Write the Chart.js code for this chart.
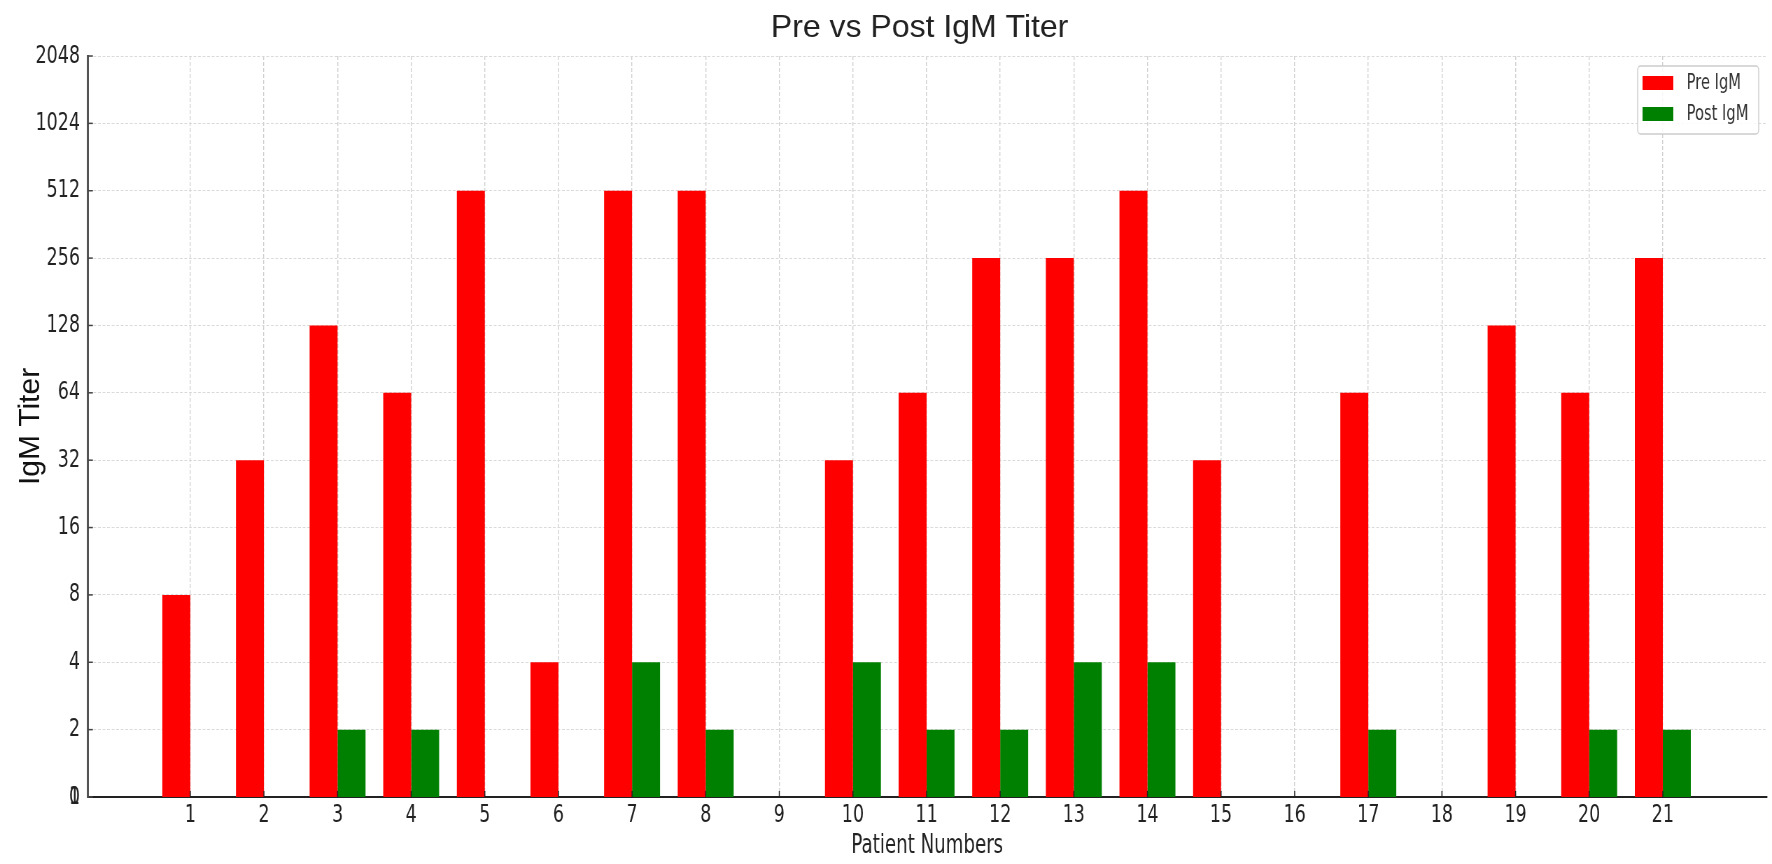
<!DOCTYPE html>
<html>
<head>
<meta charset="utf-8">
<script src="https://cdn.jsdelivr.net/npm/chart.js@4/dist/chart.umd.min.js"></script>
<style>
  html, body { margin: 0; padding: 0; background: #fff; overflow: hidden; }
  #wrap { width: 2532px; height: 864px; transform: scaleX(0.69984); transform-origin: 0 0; }
</style>
</head>
<body>
<div id="wrap"><canvas id="c" width="2532" height="864"></canvas></div>
<script>
const patients = [1,2,3,4,5,6,7,8,9,10,11,12,13,14,15,16,17,18,19,20,21];
const preIgM  = [8,32,128,64,512,4,512,512,0,32,64,256,256,512,32,0,64,0,128,64,256];
const postIgM = [0,0,2,2,0,0,4,2,0,4,2,2,4,4,0,0,2,0,0,2,2];
const yTicks  = [1,2,4,8,16,32,64,128,256,512,1024,2048];
const seriesLabels = ['Pre IgM', 'Post IgM'];
const seriesColors = ['#ff0000', '#008000'];
const chartTitle = 'Pre vs Post IgM Titer';
const yTitle = 'IgM Titer';
const xTitle = 'Patient Numbers';

const SQ = 0.69984; // horizontal squeeze applied by CSS to the whole canvas

const toPoints = arr => patients.map((p, i) => ({ x: p, y: arr[i] > 0 ? arr[i] : null }));

const overlayPlugin = {
  id: 'overlay',
  afterDatasetsDraw(chart) {
    const ctx = chart.ctx, ca = chart.chartArea;
    const xs = chart.scales.x, ys = chart.scales.y;
    ctx.save();
    ctx.strokeStyle = '#222';
    ctx.lineWidth = 1.5;
    xs.ticks.forEach((t, i) => {
      const px = xs.getPixelForTick(i);
      ctx.beginPath(); ctx.moveTo(px, ca.bottom); ctx.lineTo(px, ca.bottom - 6); ctx.stroke();
    });
    ctx.strokeStyle = '#444';
    ys.ticks.forEach((t, i) => {
      const py = ys.getPixelForTick(i);
      ctx.beginPath(); ctx.moveTo(ca.left, py); ctx.lineTo(ca.left + 7, py); ctx.stroke();
    });
    ctx.restore();
  },
  afterDraw(chart) {
    const ctx = chart.ctx, ca = chart.chartArea;
    ctx.save();
    // chart title (un-squeezed text)
    ctx.save();
    ctx.translate((ca.left + ca.right) / 2 - 11, 37);
    ctx.scale(1 / SQ, 1);
    ctx.font = '32px "Liberation Sans", Arial, sans-serif';
    ctx.fillStyle = '#222';
    ctx.textAlign = 'center';
    ctx.textBaseline = 'alphabetic';
    ctx.fillText(chartTitle, 0, 0);
    ctx.restore();
    // y axis title (un-squeezed, rotated)
    ctx.save();
    ctx.translate(39 / SQ, (ca.top + ca.bottom) / 2);
    ctx.scale(1 / SQ, 1);
    ctx.rotate(-Math.PI / 2);
    ctx.font = '30px "Liberation Sans", Arial, sans-serif';
    ctx.fillStyle = '#111';
    ctx.textAlign = 'center';
    ctx.textBaseline = 'alphabetic';
    ctx.fillText(yTitle, 0, 0);
    ctx.restore();
    // overlapping "0" at the bottom of the y axis
    ctx.font = '25px "DejaVu Sans"';
    ctx.fillStyle = '#222';
    ctx.textAlign = 'right';
    ctx.textBaseline = 'middle';
    ctx.fillText('0', ca.left - 11.4, chart.scales.y.getPixelForValue(1));
    // legend
    const bx = 2340, by = 66, bw = 173, bh = 68;
    ctx.beginPath();
    ctx.roundRect(bx, by, bw, bh, 4);
    ctx.fillStyle = 'rgba(255,255,255,0.85)';
    ctx.fill();
    ctx.strokeStyle = '#cccccc';
    ctx.lineWidth = 1.4;
    ctx.stroke();
    ctx.font = '21px "DejaVu Sans"';
    ctx.textAlign = 'left';
    chart.data.datasets.forEach((ds, i) => {
      ctx.fillStyle = ds.backgroundColor;
      ctx.fillRect(bx + 7, by + 10 + i * 31, 44, 14);
      ctx.fillStyle = '#333';
      ctx.fillText(ds.label, bx + 70, by + 18 + i * 31);
    });
    ctx.restore();
  }
};

new Chart(document.getElementById('c'), {
  type: 'bar',
  data: {
    datasets: [
      { label: seriesLabels[0], data: toPoints(preIgM), backgroundColor: seriesColors[0], borderWidth: 0 },
      { label: seriesLabels[1], data: toPoints(postIgM), backgroundColor: seriesColors[1], borderWidth: 0 }
    ]
  },
  options: {
    responsive: false,
    devicePixelRatio: 1,
    animation: false,
    categoryPercentage: 0.76,
    barPercentage: 1.0,
    layout: { padding: { left: 0, right: 7.7, top: 56, bottom: 0 } },
    plugins: {
      legend: { display: false },
      tooltip: { enabled: false },
      title: { display: false }
    },
    scales: {
      x: {
        type: 'linear',
        offset: false,
        min: -0.39,
        max: 22.41,
        afterBuildTicks: s => { s.ticks = patients.map(v => ({ value: v })); },
        afterFit: s => { s.height = 67; s.paddingLeft = 0; s.paddingRight = 0; },
        ticks: {
          callback: v => String(v),
          color: '#222',
          font: { family: '"DejaVu Sans"', size: 25 },
          padding: 3.5,
          maxRotation: 0,
          autoSkip: false
        },
        grid: { offset: false, color: '#d0d0d0', lineWidth: 1.4, drawTicks: false },
        border: { display: true, color: '#222', width: 2, dash: [4, 2] },
        title: {
          display: true,
          text: xTitle,
          color: '#222',
          font: { family: '"DejaVu Sans"', size: 26 },
          padding: { top: 0, bottom: 2.4 }
        }
      },
      y: {
        type: 'logarithmic',
        min: 1,
        max: 2048,
        afterBuildTicks: s => { s.ticks = yTicks.map(v => ({ value: v })); },
        afterFit: s => { s.width = 125.7; s.paddingTop = 0; s.paddingBottom = 0; },
        ticks: {
          callback: v => String(v),
          color: '#222',
          font: { family: '"DejaVu Sans"', size: 25 },
          padding: 11.4,
          autoSkip: false
        },
        grid: { color: '#dadada', lineWidth: 1, drawTicks: false },
        border: { display: true, color: '#555', width: 3, dash: [4, 2.5] }
      }
    }
  },
  plugins: [overlayPlugin]
});
</script>
</body>
</html>
